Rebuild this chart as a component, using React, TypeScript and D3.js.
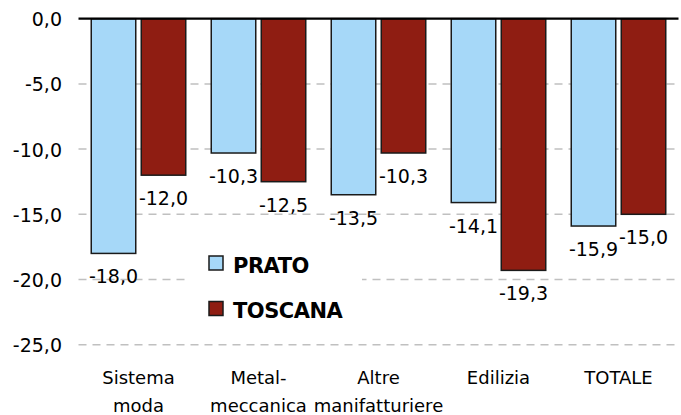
import React from "react";
import * as d3 from "d3";

const categories: string[][] = [
  ["Sistema", "moda"],
  ["Metal-", "meccanica"],
  ["Altre", "manifatturiere"],
  ["Edilizia"],
  ["TOTALE"],
];
const seriesNames = ["PRATO", "TOSCANA"];
const prato = [-18.0, -10.3, -13.5, -14.1, -15.9];
const toscana = [-12.0, -12.5, -10.3, -19.3, -15.0];
const yTicks = [0, -5, -10, -15, -20, -25];

const colors = ["#a6d8f8", "#8f1d12"];
const W = 681;
const H = 415;
const left = 78.5;
const right = 678.5;
const top = 18.7;
const bottom = 344.7;
const FONT = "'DejaVu Sans', Verdana, sans-serif";

const fmt = (v: number) => v.toFixed(1).replace(".", ",");

export default function App() {
  const keys = categories.map((c) => c.join(" "));
  const x = d3.scaleBand<string>().domain(keys).range([left, right]).paddingInner(0).paddingOuter(0);
  const step = x.bandwidth();
  const inner = d3
    .scaleBand<string>()
    .domain(seriesNames)
    .range([12.75, step - 12.75])
    .paddingInner(0.11)
    .paddingOuter(0);
  const y = d3.scaleLinear().domain([0, -25]).range([top, bottom]);
  const data = [prato, toscana];

  return (
    <svg width={W} height={H} style={{ position: "absolute", left: 0, top: 0, background: "#fff" }}>
      {/* gridlines */}
      {yTicks.filter((t) => t !== 0).map((t) => (
        <line
          key={t}
          x1={left}
          x2={right}
          y1={y(t)}
          y2={y(t)}
          stroke="#c0c0c0"
          strokeWidth={1.5}
          strokeDasharray="8,6"
        />
      ))}
      {/* y tick labels */}
      {yTicks.map((t) => (
        <text key={t} x={62} y={y(t) + 7.5} textAnchor="end" fontFamily={FONT} fontSize={19} fill="#000">
          {fmt(t)}
        </text>
      ))}
      {/* bars */}
      {data.map((vals, si) =>
        vals.map((v, ci) => {
          const bx = (x(keys[ci]) as number) + (inner(seriesNames[si]) as number);
          return (
            <rect
              key={`${si}-${ci}`}
              x={bx}
              y={y(0)}
              width={inner.bandwidth()}
              height={y(v) - y(0)}
              fill={colors[si]}
              stroke="#1a1a1a"
              strokeWidth={1.5}
            />
          );
        })
      )}
      {/* zero axis line */}
      <line x1={left} x2={right} y1={y(0)} y2={y(0)} stroke="#000" strokeWidth={2.2} />
      {/* legend background */}
      <rect x={190} y={242} width={172} height={92} fill="#fff" />
      {/* data labels */}
      {data.map((vals, si) =>
        vals.map((v, ci) => {
          const cx = (x(keys[ci]) as number) + (inner(seriesNames[si]) as number) + inner.bandwidth() / 2;
          return (
            <text
              key={`l-${si}-${ci}`}
              x={cx}
              y={y(v) + 30}
              textAnchor="middle"
              fontFamily={FONT}
              fontSize={19}
              fill="#000"
            >
              {fmt(v)}
            </text>
          );
        })
      )}
      {/* legend */}
      {seriesNames.map((s, i) => (
        <g key={s} transform={`translate(209, ${256 + i * 45.5})`}>
          <rect x={0} y={0} width={14} height={14} fill={colors[i]} stroke="#1a1a1a" strokeWidth={1.5} />
          <text x={24} y={16.5} fontFamily={FONT} fontSize={21} fontWeight="bold" fill="#000" letterSpacing={-0.5}>
            {s}
          </text>
        </g>
      ))}
      {/* category labels */}
      {categories.map((lines, ci) => (
        <text
          key={keys[ci]}
          x={(x(keys[ci]) as number) + step / 2}
          y={384}
          textAnchor="middle"
          fontFamily={FONT}
          fontSize={18}
          fill="#000"
        >
          {lines.map((ln, li) => (
            <tspan key={li} x={(x(keys[ci]) as number) + step / 2} dy={li === 0 ? 0 : 28}>
              {ln}
            </tspan>
          ))}
        </text>
      ))}
    </svg>
  );
}
